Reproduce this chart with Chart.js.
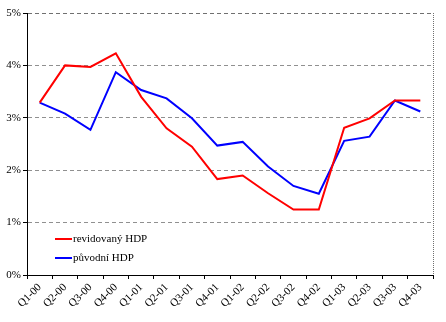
<!DOCTYPE html>
<html>
<head>
<meta charset="utf-8">
<script src="https://cdn.jsdelivr.net/npm/chart.js@4"></script>
<style>
  html, body { margin: 0; padding: 0; background: #fff; }
  #wrap { width: 446px; height: 322px; position: relative; }
</style>
</head>
<body>
<div id="wrap"><canvas id="chart"></canvas></div>
<script>
const quarters = ['Q1-00', 'Q2-00', 'Q3-00', 'Q4-00', 'Q1-01', 'Q2-01', 'Q3-01', 'Q4-01',
                  'Q1-02', 'Q2-02', 'Q3-02', 'Q4-02', 'Q1-03', 'Q2-03', 'Q3-03', 'Q4-03'];
const revised = [3.29, 4.00, 3.97, 4.23, 3.40, 2.80, 2.45, 1.83, 1.90, 1.56, 1.25, 1.25, 2.81, 2.99, 3.33, 3.33];
const original = [3.29, 3.08, 2.77, 3.87, 3.53, 3.37, 2.99, 2.47, 2.54, 2.07, 1.70, 1.55, 2.56, 2.64, 3.33, 3.12];
const yTicks = [0, 1, 2, 3, 4, 5];

const serif = 'Liberation Serif, "Times New Roman", serif';

// legend drawn inside the plot, bottom left
const innerLegend = {
  id: 'innerLegend',
  afterDraw(chart) {
    const c = chart.ctx, a = chart.chartArea;
    c.save();
    c.font = '11px ' + serif;
    c.textBaseline = 'middle';
    chart.data.datasets.forEach((ds, i) => {
      const y = a.bottom - 36 + i * 19;
      c.strokeStyle = ds.borderColor;
      c.lineWidth = 2;
      c.beginPath();
      c.moveTo(a.left + 28, y);
      c.lineTo(a.left + 45, y);
      c.stroke();
      c.fillStyle = '#000';
      c.fillText(ds.label, a.left + 46, y);
    });
    c.restore();
  }
};

new Chart(document.getElementById('chart'), {
  type: 'line',
  data: {
    labels: quarters,
    datasets: [{
      label: 'revidovaný HDP',
      data: revised,
      borderColor: '#ff0000',
      backgroundColor: '#ff0000',
      borderWidth: 2,
      pointRadius: 0,
      tension: 0
    }, {
      label: 'původní HDP',
      data: original,
      borderColor: '#0000ff',
      backgroundColor: '#0000ff',
      borderWidth: 2,
      pointRadius: 0,
      tension: 0
    }]
  },
  options: {
    responsive: true,
    maintainAspectRatio: false,
    animation: false,
    layout: { padding: { top: 13, right: 13, left: 0, bottom: 0 } },
    plugins: {
      legend: { display: false },
      tooltip: { enabled: false }
    },
    scales: {
      x: {
        offset: true,
        grid: {
          offset: true,
          drawOnChartArea: true,
          // only the closing line on the right edge is visible (dotted frame)
          color: (ctx) => ctx.tick ? 'rgba(0,0,0,0)' : '#707070',
          tickColor: '#000',
          tickLength: 4
        },
        border: { color: '#000', width: 1, dash: [1, 1] },
        ticks: {
          color: '#000',
          font: { family: serif, size: 11 },
          minRotation: 45,
          maxRotation: 45,
          autoSkip: false,
          padding: 2
        },
        afterFit: (s) => { s.height = 47; }
      },
      y: {
        min: 0,
        max: 5,
        afterBuildTicks: (s) => { s.ticks = yTicks.map(v => ({ value: v })); },
        grid: {
          color: (ctx) => ctx.tick.value === 0 ? 'rgba(0,0,0,0)' : (ctx.tick.value === 5 ? '#707070' : '#909090'),
          tickColor: '#000',
          tickLength: 4
        },
        border: { color: '#000', width: 1, dash: [4, 3] },
        ticks: {
          color: '#000',
          font: { family: serif, size: 11 },
          padding: 2,
          callback: (v) => v + '%'
        },
        afterFit: (s) => { s.width = 27; }
      }
    }
  },
  plugins: [innerLegend]
});
</script>
</body>
</html>
